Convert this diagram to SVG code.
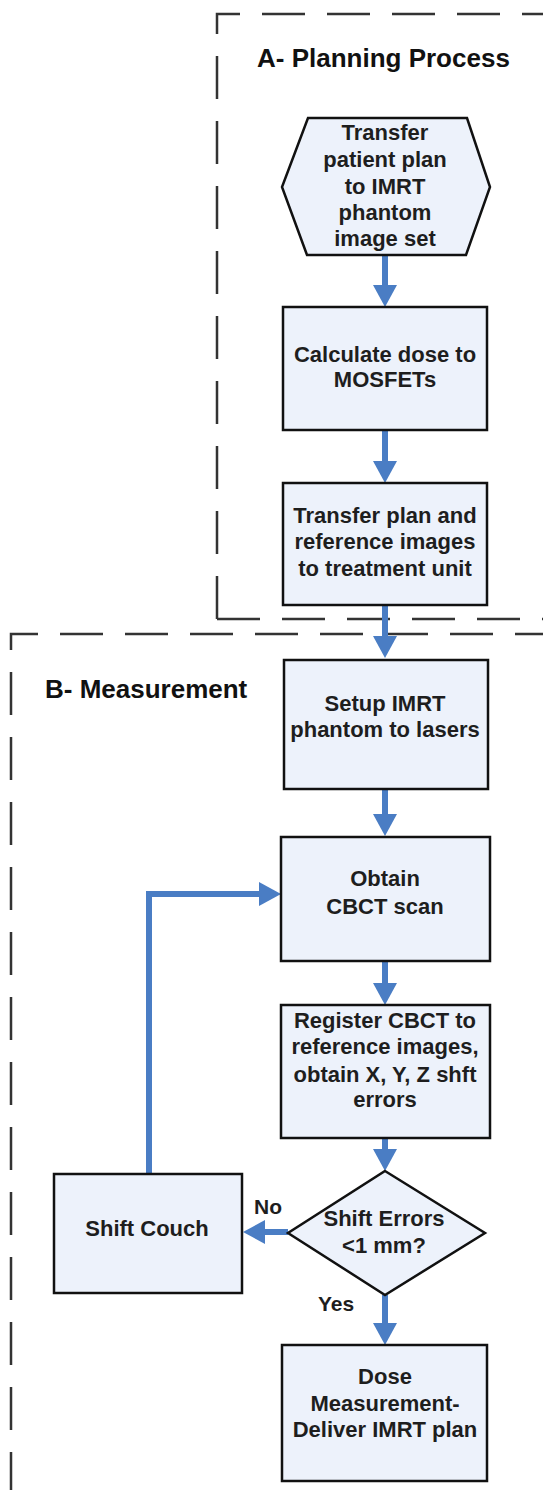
<svg xmlns="http://www.w3.org/2000/svg" width="543" height="1490" viewBox="0 0 543 1490">
<defs>
<marker id="ah" markerUnits="userSpaceOnUse" markerWidth="24" markerHeight="24" viewBox="0 0 22 24" refX="4" refY="12" orient="auto">
<path d="M0,0 L22,12 L0,24 Z" fill="#4a7dc4"/>
</marker>
</defs>
<style>
.frame{fill:none;stroke:#333;stroke-width:2.5;stroke-dasharray:43 22}
.node{fill:#edf2fb;stroke:#111;stroke-width:2.5}
.t{font-family:"Liberation Sans",Arial,sans-serif;font-weight:bold;font-size:22px;fill:#1e1e1e;text-anchor:middle}
.title{font-family:"Liberation Sans",Arial,sans-serif;font-weight:bold;font-size:26px;fill:#111}
.lbl{font-family:"Liberation Sans",Arial,sans-serif;font-weight:bold;font-size:21px;fill:#1e1e1e}
.c{fill:none;stroke:#4a7dc4;stroke-width:6;marker-end:url(#ah)}
</style>
<rect width="543" height="1490" fill="#ffffff"/>
<g id="frameA">
<path class="frame" d="M217,619 L217,14 L620,14"/>
<path class="frame" d="M217,619 L620,619"/>
<text class="title" x="257" y="67">A- Planning Process</text>
</g>
<g id="frameB">
<path class="frame" d="M11,1560 L11,634 L620,634"/>
<text class="title" x="45" y="698">B- Measurement</text>
</g>
<g id="connectors">
<path class="c" d="M385,255 L385,289"/>
<path class="c" d="M385,430 L385,465"/>
<path class="c" d="M385,605 L385,640"/>
<path class="c" d="M385,789 L385,818"/>
<path class="c" d="M385,961 L385,987"/>
<path class="c" d="M385,1138 L385,1153"/>
<path class="c" d="M385,1295 L385,1327"/>
<path class="c" d="M288,1232 L261,1232"/>
<path class="c" d="M149,1174 L149,894 L263,894"/>
</g>
<g id="n1">
<polygon class="node" points="308,118 467,118 490,187 466,255 307,255 282,187"/>
<text class="t"><tspan x="385" y="140">Transfer</tspan><tspan x="385" y="167">patient plan</tspan><tspan x="385" y="194">to IMRT</tspan><tspan x="385" y="220">phantom</tspan><tspan x="385" y="246">image set</tspan></text>
</g>
<g id="n2">
<rect class="node" x="283" y="307" width="204" height="123"/>
<text class="t"><tspan x="385" y="362">Calculate dose to</tspan><tspan x="385" y="387">MOSFETs</tspan></text>
</g>
<g id="n3">
<rect class="node" x="283" y="483" width="204" height="122"/>
<text class="t"><tspan x="385" y="523">Transfer plan and</tspan><tspan x="385" y="549">reference images</tspan><tspan x="385" y="576">to treatment unit</tspan></text>
</g>
<g id="n4">
<rect class="node" x="284" y="660" width="204" height="129"/>
<text class="t"><tspan x="385" y="711">Setup IMRT</tspan><tspan x="385" y="737">phantom to lasers</tspan></text>
</g>
<g id="n5">
<rect class="node" x="281" y="837" width="209" height="124"/>
<text class="t"><tspan x="385" y="886">Obtain</tspan><tspan x="385" y="914">CBCT scan</tspan></text>
</g>
<g id="n6">
<rect class="node" x="281" y="1005" width="209" height="133"/>
<text class="t"><tspan x="385" y="1028">Register CBCT to</tspan><tspan x="385" y="1054">reference images,</tspan><tspan x="385" y="1082">obtain X, Y, Z shft</tspan><tspan x="385" y="1107">errors</tspan></text>
</g>
<g id="n7">
<polygon class="node" points="385,1171 485,1233 385,1295 288,1233"/>
<text class="t"><tspan x="384" y="1226">Shift Errors</tspan><tspan x="384" y="1253">&lt;1 mm?</tspan></text>
</g>
<g id="n8">
<rect class="node" x="54" y="1174" width="188" height="119"/>
<text class="t" x="147" y="1236">Shift Couch</text>
</g>
<g id="n9">
<rect class="node" x="282" y="1345" width="205" height="136"/>
<text class="t"><tspan x="385" y="1384">Dose</tspan><tspan x="385" y="1411">Measurement-</tspan><tspan x="385" y="1437">Deliver IMRT plan</tspan></text>
</g>
<g id="labels">
<text class="lbl" x="254" y="1214">No</text>
<text class="lbl" x="318" y="1311">Yes</text>
</g>
</svg>
